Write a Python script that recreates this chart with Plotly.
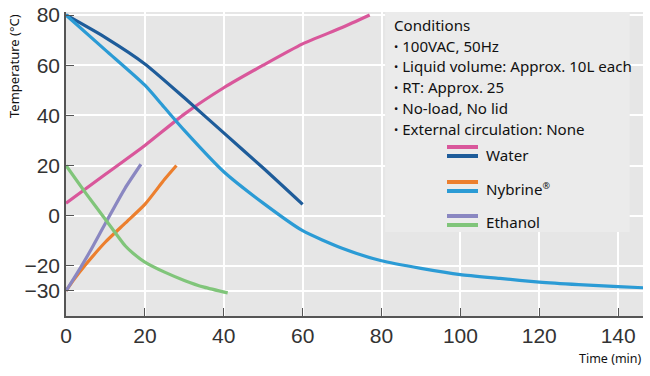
import plotly.graph_objects as go

# ---- data ----
water_heat_t = [0, 10, 20, 30, 40, 50, 60, 70, 77]
water_heat_y = [5, 16.5, 28, 40.5, 51, 60, 68.5, 75, 80]

water_cool_t = [0, 10, 20, 30, 40, 50, 60]
water_cool_y = [80, 71, 60.5, 47, 33, 19, 4.5]

nyb_heat_t = [0, 2, 5, 10, 15, 20, 25, 28]
nyb_heat_y = [-30, -25.5, -19.5, -10.5, -3, 4.5, 14.5, 20]

nyb_cool_t = [0, 10, 20, 25, 30, 40, 50, 60, 70, 80, 90, 100, 110, 120, 130, 140, 150]
nyb_cool_y = [80, 66, 52, 43, 34, 17.5, 5, -6, -13, -18, -21, -23.5, -25, -26.5, -27.5, -28.3, -29]

eth_heat_t = [0, 3, 6, 10, 15, 19]
eth_heat_y = [-30, -22.5, -14.5, -3, 11, 20.5]

eth_cool_t = [0, 5, 10, 15, 17, 20, 25, 30, 35, 41]
eth_cool_y = [20, 9, -1.5, -12, -15, -18.5, -22.5, -25.8, -28.5, -30.8]

x_ticks = [0, 20, 40, 60, 80, 100, 120, 140]
y_ticks = [80, 60, 40, 20, 0, -20, -30]

BUL = "<b>·</b> "
conditions = ["Conditions",
              BUL + "100VAC, 50Hz",
              BUL + "Liquid volume: Approx. 10L each",
              BUL + "RT: Approx. 25",
              BUL + "No-load, No lid",
              BUL + "External circulation: None"]
legend_labels = ["Water", "Nybrine<sup><span style='font-size:9px'>®</span></sup>", "Ethanol"]

PINK = "#d9579b"
DBLUE = "#1e5c9a"
LBLUE = "#2b9bd5"
ORANGE = "#ec7f2e"
PURPLE = "#8a87c1"
GREEN = "#80c57a"

series = [
    (water_heat_t, water_heat_y, PINK),
    (water_cool_t, water_cool_y, DBLUE),
    (nyb_heat_t, nyb_heat_y, ORANGE),
    (nyb_cool_t, nyb_cool_y, LBLUE),
    (eth_heat_t, eth_heat_y, PURPLE),
    (eth_cool_t, eth_cool_y, GREEN),
]

fig = go.Figure()
for t, y, c in series:
    fig.add_trace(go.Scatter(x=t, y=y, mode="lines",
                             line=dict(color=c, width=3.2, shape="spline", smoothing=0.6),
                             showlegend=False, hoverinfo="skip"))

tickfont = dict(family="Liberation Sans, Arial, sans-serif", size=21, color="#333333")
fig.update_layout(
    width=650, height=376,
    margin=dict(l=66, r=7, t=12, b=60),
    paper_bgcolor="white",
    plot_bgcolor="#e6e6e6",
    xaxis=dict(range=[0, 146.3], tickvals=x_ticks, showgrid=True, gridcolor="white", gridwidth=2,
               showline=True, linecolor="#555555", linewidth=1.5, ticks="inside", ticklen=8,
               tickcolor="#555555", tickfont=tickfont, zeroline=False, automargin=False),
    yaxis=dict(range=[-40, 81.2], tickvals=y_ticks, showgrid=True, gridcolor="white", gridwidth=2,
               showline=True, linecolor="#555555", linewidth=1.5, ticks="inside", ticklen=8,
               tickcolor="#555555", tickfont=tickfont, zeroline=False, automargin=False),
)

# Conditions / legend box
fig.add_shape(type="rect", xref="paper", yref="paper", x0=0.553, x1=0.977, y0=0.276, y1=1.0,
              fillcolor="#ebebeb", line=dict(width=0), layer="above")

txtfont = dict(family="Noto Sans, Open Sans, sans-serif", size=15.1, color="#111111")
H = 304.0
for i, line in enumerate(conditions):
    py = 25 + i * 20.7
    fig.add_annotation(xref="paper", yref="paper", x=(392 - 66) / 577, y=(316 - py) / H,
                       text=line, showarrow=False, xanchor="left", yanchor="middle", font=txtfont)

pairs = [(PINK, DBLUE), (ORANGE, LBLUE), (PURPLE, GREEN)]
ys = [(147, 156), (182, 191), (216, 225)]
label_y = [155, 189, 222]
for (c1, c2), (y1, y2), ly, lab in zip(pairs, ys, label_y, legend_labels):
    for c, py in ((c1, y1), (c2, y2)):
        fig.add_shape(type="line", xref="paper", yref="paper",
                      x0=(447 - 66) / 577, x1=(478 - 66) / 577,
                      y0=(316 - py) / H, y1=(316 - py) / H,
                      line=dict(color=c, width=4), layer="above")
    fig.add_annotation(xref="paper", yref="paper", x=(484 - 66) / 577, y=(316 - ly) / H,
                       text=lab, showarrow=False, xanchor="left", yanchor="middle", font=txtfont)

# axis titles
fig.add_annotation(xref="paper", yref="paper", x=(644 - 66) / 577, y=(316 - 358) / H,
                   text="Time (min)", showarrow=False, xanchor="right", yanchor="middle",
                   font=dict(family="Noto Sans, Open Sans, sans-serif", size=12.5, color="#111111"))
fig.add_annotation(xref="paper", yref="paper", x=(14 - 66) / 577, y=(316 - 66) / H,
                   text="Temperature (°C)", showarrow=False, textangle=-90,
                   xanchor="center", yanchor="middle",
                   font=dict(family="Noto Sans, Open Sans, sans-serif", size=13, color="#111111"))

fig.write_html("out.html", config={"displayModeBar": False},
               post_script="document.body.style.margin='0';")
